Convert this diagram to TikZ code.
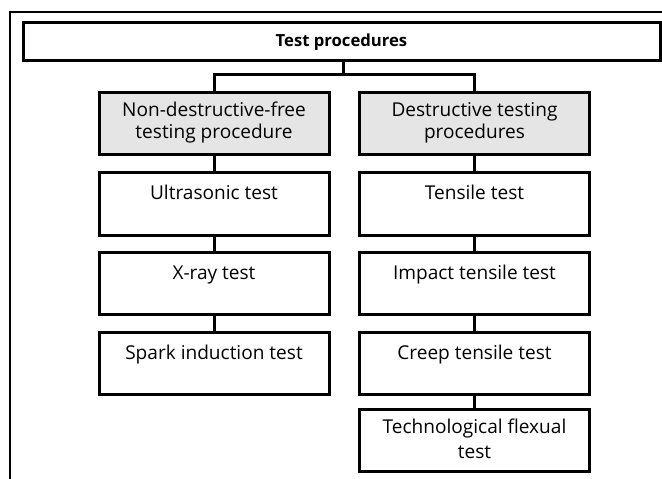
\documentclass[tikz,border=0pt]{standalone}
\usepackage{fontspec}
\setmainfont{Open Sans}
\usetikzlibrary{calc}
\begin{document}
\begin{tikzpicture}[x=0.75pt,y=-0.75pt,
  box/.style={draw, line width=2.25pt, inner sep=0pt, minimum width=172.5pt, minimum height=47pt},
  greybox/.style={box, fill=black!10},
  topbox/.style={draw, line width=2.25pt, inner sep=0pt, minimum width=477.75pt, minimum height=28.5pt},
  conn/.style={line width=2.25pt},
  frame/.style={line width=0.8pt},
  txt/.style={font=\fontsize{14.3}{17}\selectfont, inner sep=0pt},
  txttwo/.style={font=\fontsize{14.3}{16.5}\selectfont, inner sep=0pt, align=center}
]
\useasboundingbox (0,0) rectangle (662,479);
\draw[frame] (10,479) -- (10,12) -- (662,12);

\node[topbox] (top) at (341.5,41) {};
\node[font=\fontsize{12.5}{14}\selectfont\bfseries, inner sep=0pt, anchor=base] (ttop) at (341.5,46) {Test procedures};

% left column
\node[greybox] (L0) at (214,123.5) {};
\node[box] (L1) at (214,204) {};
\node[box] (L2) at (214,283.5) {};
\node[box] (L3) at (214,363.5) {};
% right column
\node[greybox] (R0) at (474.5,123.5) {};
\node[box] (R1) at (474.5,204) {};
\node[box] (R2) at (474.5,283.5) {};
\node[box] (R3) at (474.5,363.5) {};
\node[box] (R4) at (474.5,440.5) {};

% texts
\node[txttwo] (tL0) at ($(L0.center)+(0,-1)$) {Non-destructive-free\\testing procedure};
\node[txttwo] (tR0) at ($(R0.center)+(0,-1)$) {Destructive testing\\procedures};
\node[txt, anchor=base] (tL1) at ($(L1.north)+(0,28.5)$) {Ultrasonic test};
\node[txt, anchor=base] (tL2) at ($(L2.north)+(0,28.5)$) {X-ray test};
\node[txt, anchor=base] (tL3) at ($(L3.north)+(0,28.5)$) {Spark induction test};
\node[txt, anchor=base] (tR1) at ($(R1.north)+(0,28.5)$) {Tensile test};
\node[txt, anchor=base] (tR2) at ($(R2.north)+(0,28.5)$) {Impact tensile test};
\node[txt, anchor=base] (tR3) at ($(R3.north)+(0,28.5)$) {Creep tensile test};
\node[font=\fontsize{14.3}{18.75}\selectfont, inner sep=0pt, align=center] (tR4) at ($(R4.center)+(0,-2)$) {Technological flexual\\test};

% connectors
\coordinate (j) at (343,74);
\draw[conn] (top.south -| j) -- (j);
\draw[conn] (L0.north) |- (j) -| (R0.north);
\draw[conn] (L0.south) -- (L1.north);
\draw[conn] (L1.south) -- (L2.north);
\draw[conn] (L2.south) -- (L3.north);
\draw[conn] (R0.south) -- (R1.north);
\draw[conn] (R1.south) -- (R2.north);
\draw[conn] (R2.south) -- (R3.north);
\draw[conn] (R3.south) -- (R4.north);
\end{tikzpicture}
\end{document}
